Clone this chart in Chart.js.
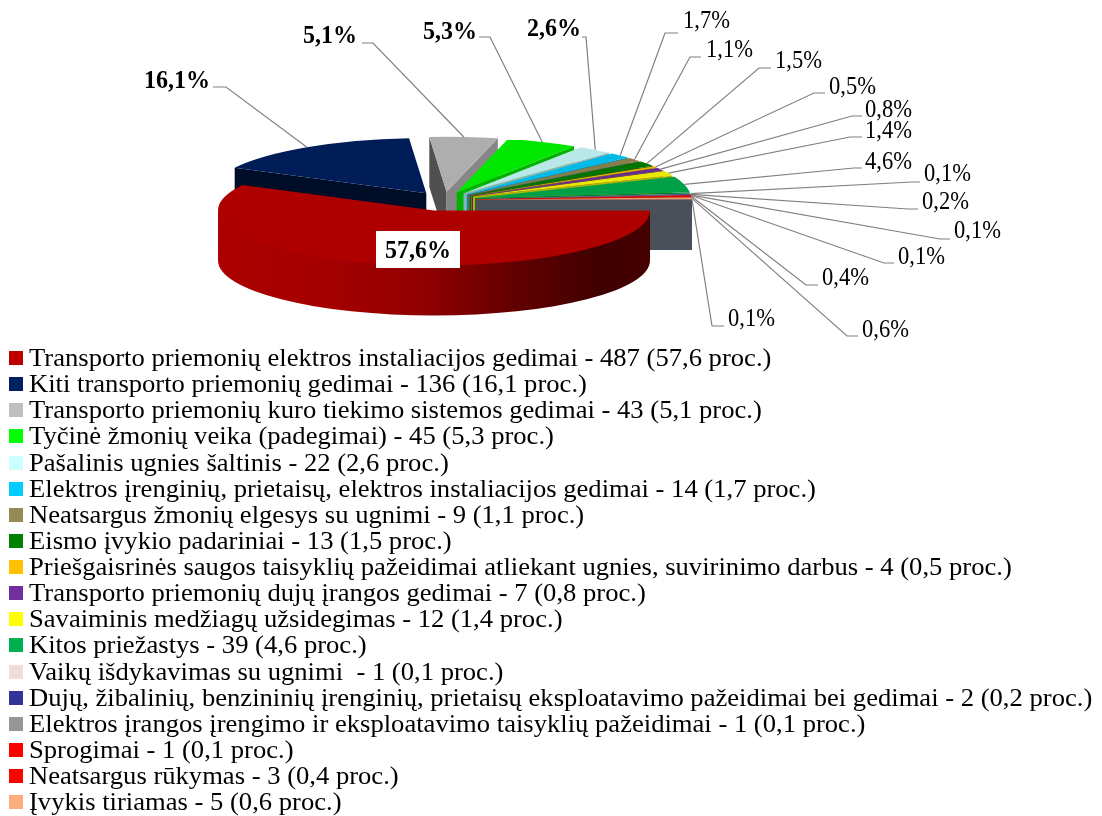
<!DOCTYPE html>
<html lang="lt">
<head>
<meta charset="utf-8">
<title>Gaisrų priežastys</title>
<script src="https://cdn.jsdelivr.net/npm/chart.js@4"></script>
<style>
    html, body { margin: 0; padding: 0; background: #fff; overflow: hidden; }
    #wrap { position: relative; width: 1102px; height: 816px; overflow: hidden; }
    #pie { position: absolute; left: 0; top: 0; }
    #legend { position: absolute; left: 0; top: 345px; font: 24.5px/26.13px "Liberation Serif", serif; color: #000; }
    .row { position: relative; height: 26.13px; padding-left: 29px; white-space: pre; }
    .row i { position: absolute; left: 9px; top: 6px; width: 14px; height: 14px; }
    /* the reference text is a little wider than the plain font */
    .row span { display: inline-block; transform: scaleX(1.086); transform-origin: left center; }
</style>
</head>
<body>
<div id="wrap">
    <canvas id="pie" width="1102" height="816"></canvas>
    <div id="legend"></div>
</div>
<script>
// Legend names, the 19th slice has its row cut off at the bottom of the picture
const causes = [
    'Transporto priemonių elektros instaliacijos gedimai',
    'Kiti transporto priemonių gedimai',
    'Transporto priemonių kuro tiekimo sistemos gedimai',
    'Tyčinė žmonių veika (padegimai)',
    'Pašalinis ugnies šaltinis',
    'Elektros įrenginių, prietaisų, elektros instaliacijos gedimai',
    'Neatsargus žmonių elgesys su ugnimi',
    'Eismo įvykio padariniai',
    'Priešgaisrinės saugos taisyklių pažeidimai atliekant ugnies, suvirinimo darbus',
    'Transporto priemonių dujų įrangos gedimai',
    'Savaiminis medžiagų užsidegimas',
    'Kitos priežastys',
    'Vaikų išdykavimas su ugnimi ',
    'Dujų, žibalinių, benzininių įrenginių, prietaisų eksploatavimo pažeidimai bei gedimai',
    'Elektros įrangos įrengimo ir eksploatavimo taisyklių pažeidimai',
    'Sprogimai',
    'Neatsargus rūkymas',
    'Įvykis tiriamas'
];
const counts = [487, 136, 43, 45, 22, 14, 9, 13, 4, 7, 12, 39, 1, 2, 1, 1, 3, 5, 1];
const shares = ['57,6', '16,1', '5,1', '5,3', '2,6', '1,7', '1,1', '1,5', '0,5', '0,8', '1,4', '4,6', '0,1', '0,2', '0,1', '0,1', '0,4', '0,6', '0,1'];
const colors = ['#C00000', '#002060', '#BFBFBF', '#00FF00', '#CCFFFF', '#00CCFF', '#948A54', '#008000', '#FFC000',
    '#7030A0', '#FFFF00', '#00B050', '#F2DCDB', '#333399', '#969696', '#FF0000', '#FF0000', '#FCAE7C', '#6A7281'];

// Where the percent labels sit: text left/middle, end of the short horizontal bit, elbow
const labelLayout = [
    { x: 376, y: 250, box: true },
    { x: 144, y: 80, endX: 213, elbowX: 226, elbowY: 87 },
    { x: 303, y: 35, endX: 362, elbowX: 373, elbowY: 43 },
    { x: 423, y: 31, endX: 479, elbowX: 490, elbowY: 37 },
    { x: 527, y: 28, endX: 582, elbowX: 586, elbowY: 37 },
    { x: 683, y: 20, endX: 678, elbowX: 665, elbowY: 33 },
    { x: 706, y: 49, endX: 701, elbowX: 690, elbowY: 57 },
    { x: 775, y: 60, endX: 771, elbowX: 759, elbowY: 68 },
    { x: 829, y: 86, endX: 825, elbowX: 814, elbowY: 93 },
    { x: 865, y: 109, endX: 862, elbowX: 852, elbowY: 116 },
    { x: 865, y: 130, endX: 862, elbowX: 850, elbowY: 137 },
    { x: 865, y: 161, endX: 862, elbowX: 854, elbowY: 168 },
    { x: 924, y: 173, endX: 920, elbowX: 912, elbowY: 182 },
    { x: 922, y: 201, endX: 918, elbowX: 908, elbowY: 209 },
    { x: 954, y: 230, endX: 950, elbowX: 940, elbowY: 239 },
    { x: 898, y: 256, endX: 894, elbowX: 884, elbowY: 263 },
    { x: 822, y: 277, endX: 818, elbowX: 806, elbowY: 285 },
    { x: 862, y: 329, endX: 858, elbowX: 847, elbowY: 336 },
    { x: 728, y: 318, endX: 724, elbowX: 712, elbowY: 326 }
];

const PIE_X = 444, PIE_Y = 200, RADIUS = 216;
const SQUASH = 0.255;     // tilt of the pie
const DEPTH = 50;         // height of the side walls
const EXPLODE = 32, EXPLODE_MAIN = 42;
const BOLD_COUNT = 5;     // first labels are bold

function shade(hex, k) {
    const n = parseInt(hex.slice(1), 16);
    const ch = s => Math.round(((n >> s) & 255) * k);
    return `rgb(${ch(16)}, ${ch(8)}, ${ch(0)})`;
}

// Legend
const legendBox = document.getElementById('legend');
causes.forEach((name, i) => {
    const row = document.createElement('div');
    row.className = 'row';
    row.innerHTML = `<i style="background:${colors[i]}"></i>`;
    const text = document.createElement('span');
    text.textContent = `${name} - ${counts[i]} (${shares[i]} proc.)`;
    row.appendChild(text);
    legendBox.appendChild(row);
});

// Moves a slice out along its middle angle
function sliceCenter(arc, i) {
    const mid = (arc.startAngle + arc.endAngle) / 2;
    const e = i === 0 ? EXPLODE_MAIN : EXPLODE;
    return { x: PIE_X + Math.cos(mid) * e, y: PIE_Y + Math.sin(mid) * e * SQUASH, mid };
}

function drawFace(ctx, c, angle, r, fill) {
    const ex = c.x + Math.cos(angle) * r;
    const ey = c.y + Math.sin(angle) * r * SQUASH;
    ctx.fillStyle = fill;
    ctx.beginPath();
    ctx.moveTo(c.x, c.y);
    ctx.lineTo(ex, ey);
    ctx.lineTo(ex, ey + DEPTH);
    ctx.lineTo(c.x, c.y + DEPTH);
    ctx.closePath();
    ctx.fill();
}

function drawSlice(ctx, arc, i) {
    const c = sliceCenter(arc, i);
    const r = arc.outerRadius;
    const a = arc.startAngle, b = arc.endAngle;

    // cut faces that look towards the viewer
    if (Math.cos(a) < 0) drawFace(ctx, c, a, r, shade(colors[i], 0.42));
    if (Math.cos(b) > 0) drawFace(ctx, c, b, r, shade(colors[i], 0.7));

    // round wall, only the front half of the pie has one
    const from = Math.max(a, 0), to = Math.min(b, Math.PI);
    if (to > from) {
        const grad = ctx.createLinearGradient(c.x - r, 0, c.x + r, 0);
        grad.addColorStop(0, shade(colors[i], 0.89));
        grad.addColorStop(0.26, shade(colors[i], 0.86));
        grad.addColorStop(0.48, shade(colors[i], 0.745));
        grad.addColorStop(0.7, shade(colors[i], 0.5));
        grad.addColorStop(0.88, shade(colors[i], 0.34));
        grad.addColorStop(1, shade(colors[i], 0.36));
        ctx.fillStyle = grad;
        ctx.beginPath();
        // starts 2px higher so no light seam shows under the top
        ctx.ellipse(c.x, c.y - 2, r, r * SQUASH, 0, from, to);
        ctx.ellipse(c.x, c.y + DEPTH, r, r * SQUASH, 0, to, from, true);
        ctx.closePath();
        ctx.fill();
    }

    // top of the slice is the library's own arc, just squeezed
    ctx.save();
    ctx.translate(c.x, c.y);
    ctx.scale(1, SQUASH);
    ctx.translate(-arc.x, -arc.y);
    arc.draw(ctx);
    ctx.restore();
}

// The reference glyphs are taller than they are wide, so text is squeezed a bit
function labelText(ctx, str, x, y, bold) {
    ctx.save();
    ctx.translate(x, y + 2);
    ctx.scale(bold ? 0.98 : 0.92, 1);
    ctx.font = (bold ? 'bold ' : '') + '24.5px "Liberation Serif"';
    ctx.fillStyle = '#000';
    ctx.fillText(str, 0, 0);
    ctx.restore();
}

function drawLabels(ctx, arcs) {
    ctx.textBaseline = 'middle';
    ctx.textAlign = 'left';
    labelLayout.forEach((l, i) => {
        const c = sliceCenter(arcs[i], i);
        if (l.box) {
            ctx.fillStyle = '#fff';
            ctx.fillRect(l.x, l.y - 19, 84, 37);
            labelText(ctx, shares[i] + '%', l.x + 9, l.y, true);
            return;
        }
        ctx.strokeStyle = '#808080';
        ctx.lineWidth = 1.2;
        ctx.beginPath();
        ctx.moveTo(c.x + Math.cos(c.mid) * RADIUS, c.y + Math.sin(c.mid) * RADIUS * SQUASH);
        ctx.lineTo(l.elbowX, l.elbowY);
        ctx.lineTo(l.endX, l.elbowY);
        ctx.stroke();
        labelText(ctx, shares[i] + '%', l.x, l.y, i < BOLD_COUNT);
    });
}

const pie3d = {
    id: 'pie3d',
    beforeDatasetsDraw(chart) {
        const ctx = chart.ctx;
        const arcs = chart.getDatasetMeta(0).data;
        ctx.save();
        // back slices first, the big red one goes on top
        for (let i = 1; i < arcs.length; i++) drawSlice(ctx, arcs[i], i);
        drawSlice(ctx, arcs[0], 0);
        drawLabels(ctx, arcs);
        ctx.restore();
        return false;
    }
};

new Chart(document.getElementById('pie'), {
    type: 'pie',
    data: {
        labels: counts.map((v, i) => causes[i] || ''),
        datasets: [{
            data: counts,
            backgroundColor: colors.map(c => shade(c, 0.91)),
            borderWidth: 0,
            hoverOffset: 0
        }]
    },
    options: {
        responsive: false,
        animation: false,
        rotation: 90,
        layout: {
            padding: { left: PIE_X - RADIUS, right: 1102 - PIE_X - RADIUS, top: 0, bottom: 816 - 2 * RADIUS }
        },
        plugins: {
            legend: { display: false },
            tooltip: { enabled: false }
        }
    },
    plugins: [pie3d]
});
</script>
</body>
</html>
